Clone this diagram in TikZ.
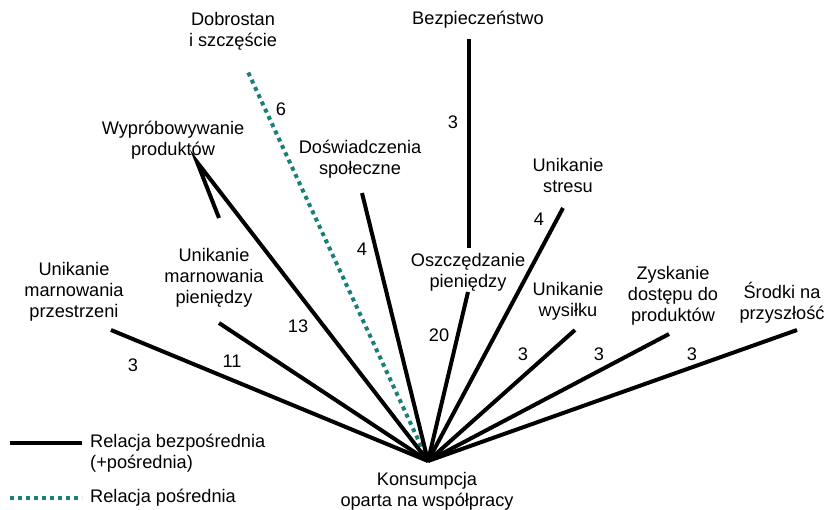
\documentclass[tikz,border=0pt]{standalone}
\usepackage{fontspec}
\setmainfont{Liberation Sans}
\usetikzlibrary{positioning}
\definecolor{teal}{HTML}{1A7F78}
\definecolor{ink}{HTML}{000000}

\begin{document}
\begin{tikzpicture}[x=1pt,y=-1pt,
  lbl/.style={font=\fontsize{18.2}{21}\selectfont,align=center,inner sep=0pt},
  num/.style={font=\fontsize{18.2}{21}\selectfont,inner sep=0pt},
  direct/.style={ink,line width=4pt},
  indirect/.style={teal,line width=4pt,dash pattern=on 4pt off 4pt}]
  \useasboundingbox (0,0) rectangle (830,509);

  % Labels
  \node[lbl] (kons) at (427,491) {Konsumpcja\\oparta na współpracy};
  \node[lbl] (prz) at (74,292) {Unikanie\\marnowania\\przestrzeni};
  \node[lbl] (pie) at (214,278) {Unikanie\\marnowania\\pieniędzy};
  \node[lbl] (wyp) at (173,140.5) {Wypróbowywanie\\produktów};
  \node[lbl] (dob) at (233,31.5) {Dobrostan\\i szczęście};
  \node[lbl] (dos) at (360,159) {Doświadczenia\\społeczne};
  \node[lbl] (bez) at (478,20) {Bezpieczeństwo};
  \node[lbl] (osz) at (468,272.5) {Oszczędzanie\\pieniędzy};
  \node[lbl] (str) at (568,175.5) {Unikanie\\stresu};
  \node[lbl] (wys) at (568,301) {Unikanie\\wysiłku};
  \node[lbl] (zys) at (673,296) {Zyskanie\\dostępu do\\produktów};
  \node[lbl] (sro) at (782,302.5) {Środki na\\przyszłość};

  % Line ends
  \coordinate (hub) at (428,461);
  \coordinate (e-prz) at (111,330);
  \coordinate (e-pie) at (219,323);
  \coordinate (e-wyp) at (197,162);
  \coordinate (barb) at (219,218);
  \coordinate (e-dob) at (248,72);
  \coordinate (e-dos) at (362,193);
  \coordinate (e-osz) at (468,292);
  \coordinate (e-str) at (563,208);
  \coordinate (e-wys) at (575,330);
  \coordinate (e-zys) at (669,334);
  \coordinate (e-sro) at (797,330);
  \coordinate (b-top) at (469,39);
  \coordinate (b-bot) at (469,248);

  % Relations
  \draw[indirect] (hub) -- (e-dob);
  \foreach \e in {prz,pie,dos,osz,str,wys,zys,sro}
    \draw[direct] (hub) -- (e-\e);
  \draw[direct] (hub) -- (e-wyp) -- (barb);
  \draw[direct] (b-bot) -- (b-top);

  % Counts
  \node[num] (n-prz) at (133,365) {3};
  \node[num] (n-pie) at (232,361) {11};
  \node[num] (n-wyp) at (298,326) {13};
  \node[num] (n-dob) at (281,109) {6};
  \node[num] (n-dos) at (362,249) {4};
  \node[num] (n-bez) at (453,122) {3};
  \node[num] (n-osz) at (439,335) {20};
  \node[num] (n-str) at (539,219) {4};
  \node[num] (n-wys) at (523,354) {3};
  \node[num] (n-zys) at (599,354) {3};
  \node[num] (n-sro) at (692,354) {3};

  % Legend
  \coordinate (l1a) at (10,443);
  \coordinate (l1b) at (82,443);
  \coordinate (l2a) at (10,498);
  \coordinate (l2b) at (82,498);
  \draw[direct] (l1a) -- (l1b);
  \draw[indirect] (l2a) -- (l2b);
  \node[lbl,align=left,anchor=west] (leg1) at (90,453.5) {Relacja bezpośrednia\\(+pośrednia)};
  \node[lbl,anchor=west] (leg2) at (90,498) {Relacja pośrednia};
\end{tikzpicture}
\end{document}
